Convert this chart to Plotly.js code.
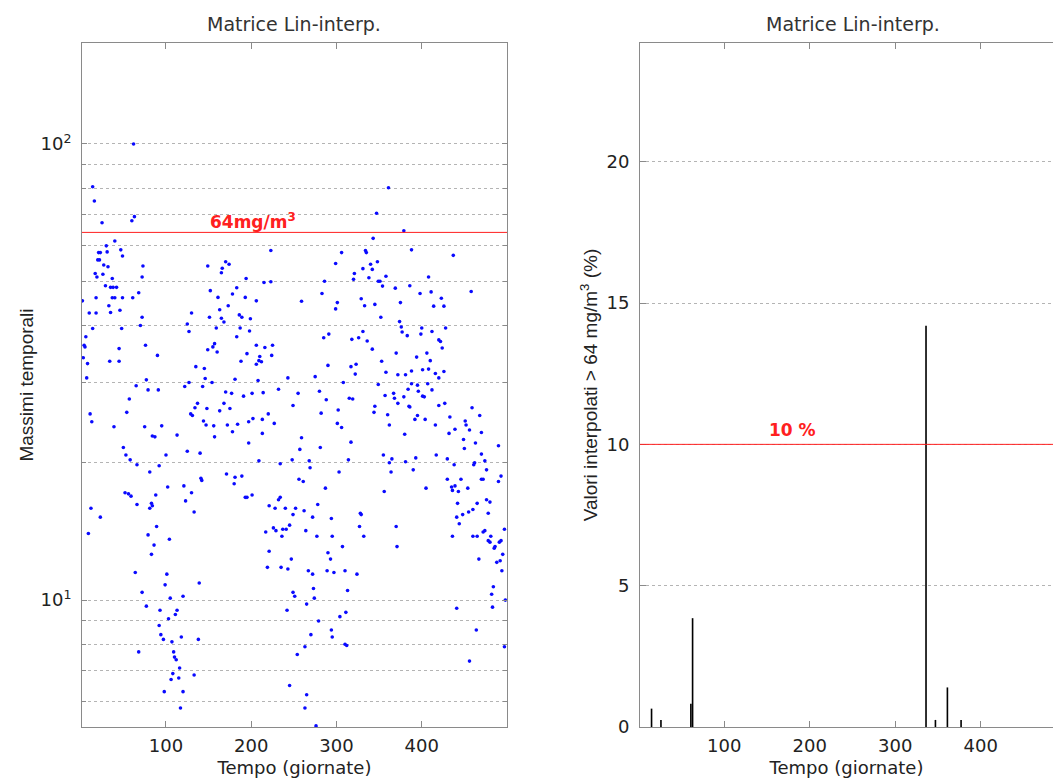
<!DOCTYPE html>
<html>
<head>
<meta charset="utf-8">
<script src="https://cdn.plot.ly/plotly-3.0.1.min.js"></script>
<style>
  html, body { margin: 0; padding: 0; background: #ffffff; }
  #chart { width: 1053px; height: 780px; }
</style>
</head>
<body>
<div id="chart"></div>
<script>
// Daily maxima (day of the series, maximum in mg/m3)
const days = [
  62, 14, 16, 25, 60, 63, 40, 30, 21, 23, 31, 47, 49, 20, 22, 27, 32, 73, 17, 19,
  26, 37, 72, 29, 35, 38, 42, 18, 37, 40, 49, 61, 68, 2, 10, 18, 33, 35, 46, 72,
  70, 14, 48,
  130, 125, 149, 170, 174, 166, 165, 194, 152, 183, 178, 161, 173, 193, 206, 215, 223, 223, 163, 151,
  165, 168, 186, 189, 199, 159, 187,
  361, 347, 379, 343, 306, 334, 335, 388, 437, 299, 340, 348, 331, 342, 321, 320, 338, 358, 349, 351,
  408, 286, 354, 369, 386, 283, 398, 411, 458, 423, 259, 301, 299, 329, 333, 345, 375, 414, 426, 352,
  374, 376, 400, 428,
  127, 198, 183, 6, 4, 5, 45, 76, 157, 155, 160, 149, 90, 3, 34, 45, 8, 195, 206, 216,
  225, 224, 210, 188, 206, 212, 209, 135, 145, 7, 77, 146, 181, 208, 243, 65, 122, 127, 143, 154,
  79, 91, 170, 177, 191, 201, 214, 232, 57, 249, 137, 134, 148, 163, 168, 175, 220, 213, 202, 197,
  11, 54, 129, 131, 13, 144, 147, 156, 172, 184, 227, 39, 75, 95, 113, 84, 87, 157, 178, 213,
  197, 50, 53, 125, 140, 100, 58, 66, 92, 209, 234, 248, 81, 171, 181, 189, 180, 141, 142, 102,
  121, 52, 59, 56, 88, 130, 193, 195, 201, 234, 232, 123, 66, 83, 84, 12, 81, 133, 221, 228,
  240, 23, 249, 245,
  285, 291, 318, 326, 331, 336, 342, 377, 383, 399, 412, 420, 422, 424, 370, 406, 394, 353, 410, 290,
  317, 323, 358, 372, 381, 388, 401, 408, 416, 426, 420, 275, 322, 308, 349, 388, 395, 407, 384, 412,
  396, 255, 280, 357, 367, 368, 379, 401, 403, 288, 315, 319, 372, 345, 385, 386, 420, 427, 459, 468,
  302, 282, 344, 360, 395, 392, 404, 433, 451, 452, 456, 301, 306, 362, 416, 439, 432, 470, 380, 259,
  317, 449, 463, 257, 281, 450, 490, 355, 393, 417, 470, 268, 269, 314, 365, 362, 381, 430, 462, 474,
  438, 461, 303, 364, 390, 476, 493, 256, 261, 430, 446, 470, 472, 490, 287, 405, 435, 436, 439, 443,
  454, 356, 442, 465, 476, 480, 278, 252, 262, 272, 294, 328, 329, 441, 448, 455, 460, 478, 444,
  9, 89, 79, 104, 86, 83, 64, 101, 99, 139, 72, 120, 105, 77, 93, 113, 111, 103, 92, 94,
  97, 118, 138, 107, 68, 109, 110, 112, 116, 108, 133, 106, 115, 98, 120, 117,
  217, 226, 229, 237, 241, 236, 221, 219, 235, 243, 247, 249, 251, 242, 245,
  264, 277, 295, 327, 332, 307, 370, 371, 290, 293, 267, 272, 289, 297, 310, 324, 273, 274, 313, 265,
  311, 304, 279, 294, 295, 270, 310, 312, 263, 254, 265, 263, 276,
  436, 460, 465, 472, 474, 481, 480, 478, 486, 485, 493, 491, 497, 495, 467, 488, 492, 494, 484, 482,
  498, 483, 441, 464, 497, 456
];
const maxima = [
  100, 80.6, 75, 67.2, 67.9, 69.3, 61.3, 59.8, 57.8, 57.8, 58, 58.6, 56.8, 55.7, 55.7, 54.3, 53.8, 54, 52, 51.1,
  51.8, 50.7, 51.1, 48.9, 48.5, 48.5, 48.5, 46, 46, 46, 46, 46, 47.2, 45.3, 42.6, 42.6, 44.2, 42.7, 43.2, 41.7,
  40, 39.4, 39.4,
  42.6, 40.3, 54, 55.2, 54.5, 53.4, 52.2, 50.7, 47.7, 48.4, 46.9, 46.1, 44.2, 46.1, 45.3, 49.7, 49.9, 58.4, 43.3, 41.7,
  41.5, 40.7, 42.2, 41.7, 41.4, 39.5, 39.5,
  80.2, 70.5, 64.5, 62.1, 57.8, 58.4, 57.8, 58.6, 57, 54.7, 54.5, 55.2, 53.3, 53.1, 52, 50.5, 50.9, 51.3, 50, 50,
  51.1, 50, 48.8, 48.3, 48.9, 47, 47, 47.4, 47.5, 45.9, 45.2, 44.9, 43.5, 45.8, 44.2, 44.5, 44.9, 44.1, 44.1, 41.7,
  40.8, 39.7, 39.5, 39.5,
  38.8, 38.9, 37.8, 37.8, 36.2, 35.9, 35.6, 36.2, 36.5, 35.9, 35, 35.4, 34.4, 34, 33.4, 33.4, 33, 34.7, 36.2, 35.8,
  36.2, 34.4, 34.2, 33.4, 32.9, 33.3, 33.5, 32.5, 32.2, 30.7, 30.4, 30.6, 30.5, 30.3, 30.7, 29.5, 29.4, 30, 29.4, 30,
  28.9, 28.9, 28.6, 28.4, 28, 28.4, 28.5, 29, 27.6, 26.7, 27, 26.4, 26.3, 26, 27, 26.3, 25.6, 24.9, 25, 24.6,
  25.6, 25.8, 25.6, 25.4, 24.6, 24.7, 24.2, 24.1, 24.2, 24.3, 24.4, 24, 24, 24.1, 23, 22.9, 22.8, 22.8, 23.4, 23.2,
  22.1, 21.6, 20.8, 21.2, 21, 20.8, 20.3, 19.8, 19.7, 20.2, 19.9, 20.3, 19.1, 18.9, 18.6, 18.7, 18, 18.5, 18.3, 17.7,
  17.8, 17.2, 16.9, 17.1, 17, 17.2, 16.8, 16.8, 17, 16.8, 16.6, 16.5, 16.2, 16.3, 16.1, 15.9, 15.9, 15.6, 16.1, 15.9,
  15.9, 15.2, 15.4, 14.6,
  37.6, 38.3, 37.3, 37.6, 38.8, 37, 35.5, 38.7, 38, 38.3, 38.8, 37.2, 36.9, 35.7, 34.8, 34.8, 34.1, 33.4, 33.5, 32.7,
  32.5, 32.9, 31.6, 31.2, 31.2, 31.8, 32, 32.1, 31.4, 31.7, 30.7, 30.9, 31.3, 30, 29.7, 29.8, 29.6, 29.8, 29, 28.9,
  28.7, 28.4, 28.7, 28.1, 28.4, 27.7, 27.9, 28, 27.9, 27.5, 27.7, 27.6, 27, 26.6, 26.6, 26.5, 26.7, 27, 26.4, 25.4,
  26.1, 25.7, 25.8, 25.5, 25.4, 24.9, 24.9, 25.2, 24.7, 24.2, 23.6, 24.4, 23.9, 24.2, 24.2, 23.7, 23.2, 23.3, 23.1, 22.7,
  22.2, 22.5, 22.1, 21.4, 21.6, 21.5, 21.8, 20.8, 20.5, 20.8, 20.9, 20.2, 19.5, 20.3, 20.4, 20, 20.1, 20.4, 20, 20.2,
  19.8, 19.8, 19.1, 19.1, 19.3, 19.3, 18.7, 18.4, 18.2, 18.4, 18.4, 18.4, 18.4, 18.2, 17.6, 17.6, 17.7, 17.4, 17.8, 17.3,
  17.6, 17.3, 16.3, 16.3, 16.6, 16.4, 16.2, 15.9, 15.7, 15.2, 15.1, 15.5, 15.4, 15.2, 15.4, 15.6, 15.8, 15.5, 14.7,
  14, 14.5, 13.9, 13.6, 13.2, 12.6, 11.5, 11.4, 10.8, 10.9, 10.4, 10.2, 10.1, 9.7, 9.5, 9.5, 9.3, 9.1, 8.8, 8.4,
  8.2, 8.3, 8.2, 8.1, 7.7, 7.7, 7.5, 7.4, 7.1, 6.9, 6.85, 6.7, 6.75, 6.3, 6.3, 5.8,
  14.1, 14.4, 14.2, 14.3, 14.3, 13.8, 12.8, 11.8, 11.8, 11.7, 12.3, 10.4, 10.2, 9.5, 6.5,
  14.2, 13.8, 13.8, 14.5, 13.8, 13.1, 14.5, 13.1, 12.7, 12.3, 11.6, 11.4, 11.6, 11.5, 11.6, 11.4, 10.6, 10.1, 10.5, 9.8,
  9.4, 9.2, 9, 8.6, 8.3, 8.4, 8, 7.95, 7.9, 7.6, 6.2, 5.8, 5.3,
  13.8, 13.8, 13.8, 14.1, 14.2, 13.8, 13.4, 13.5, 13.1, 13, 13.5, 13.4, 14.3, 12.6, 12.3, 12.1, 12.2, 11.6, 10.7, 10.3,
  10, 9.65, 9.6, 8.6, 7.9, 7.35
];

// Share of interpolated values above the threshold, per day (%)
const exceedDays = [15, 26, 61, 63, 336, 347, 361, 377];
const exceedPercent = [0.65, 0.25, 0.82, 3.85, 14.2, 0.25, 1.4, 0.25];

const THRESHOLD = 64;       // mg/m3
const PERCENT_LIMIT = 10;   // %

const dayTicks = [100, 200, 300, 400];
const logMajor = [10, 100];
const logMajorText = ['10<sup>1</sup>', '10<sup>2</sup>'];
const logMinor = [6, 7, 8, 9, 20, 30, 40, 50, 60, 70, 80, 90];
const pctTicks = [0, 5, 10, 15, 20];

const TXT = '#222222';
const AXC = '#8a8a8a';
const GRID = '#b4b4b4';
const RED = '#ff2020';
const hFont = 'DejaVu Sans, Liberation Sans, sans-serif';
const vFont = 'Liberation Sans, Arial, sans-serif';

const W = 1053, H = 780;
const px = v => v / W;
const py = v => 1 - v / H;

// log range of the left panel (decades)
const logRange = [Math.log10(5.27), Math.log10(166.5)];
const thresholdFrac = (Math.log10(THRESHOLD) - logRange[0]) / (logRange[1] - logRange[0]);

const traces = [
  {
    type: 'scatter', mode: 'markers', x: days, y: maxima,
    xaxis: 'x', yaxis: 'y',
    marker: { color: '#0a0aff', size: 3.6, line: { width: 0 } },
    hoverinfo: 'x+y', showlegend: false
  },
  {
    type: 'bar', x: exceedDays, y: exceedPercent,
    xaxis: 'x2', yaxis: 'y2', width: 1.9,
    marker: { color: '#000000', line: { width: 0 } },
    showlegend: false
  }
];

const commonX = {
  tickmode: 'array', tickvals: dayTicks, ticks: 'inside', ticklen: 6, tickcolor: AXC,
  showline: true, linecolor: AXC, linewidth: 1, mirror: 'ticks',
  showgrid: false, zeroline: false,
  tickfont: { family: hFont, size: 18, color: TXT },
  ticklabelstandoff: 2,
  title: { text: 'Tempo (giornate)', font: { family: hFont, size: 18, color: TXT }, standoff: 6 }
};

const layout = {
  width: W, height: H,
  paper_bgcolor: '#ffffff', plot_bgcolor: '#ffffff',
  margin: { l: 0, r: 0, t: 0, b: 0 },
  showlegend: false,
  xaxis: Object.assign({}, commonX, {
    domain: [px(82), px(507)], range: [1.5, 500], anchor: 'y'
  }),
  yaxis: {
    type: 'log', domain: [py(727), py(43)],
    range: logRange, anchor: 'x',
    tickmode: 'array', tickvals: logMajor, ticktext: logMajorText,
    ticks: 'inside', ticklen: 5, tickcolor: AXC,
    showline: true, linecolor: AXC, linewidth: 1, mirror: 'ticks',
    showgrid: true, gridcolor: GRID, griddash: 'dot', gridwidth: 1,
    minor: {
      tickmode: 'array', tickvals: logMinor, ticks: 'inside', ticklen: 4, tickcolor: AXC,
      showgrid: true, gridcolor: GRID, griddash: 'dot', gridwidth: 1
    },
    zeroline: false,
    tickfont: { family: hFont, size: 18, color: TXT },
    ticklabelstandoff: 6,
    title: { text: 'Massimi temporali', font: { family: vFont, size: 19, color: TXT }, standoff: 1 }
  },
  xaxis2: Object.assign({}, commonX, {
    domain: [px(640), 1], range: [1.5, 484.5], anchor: 'y2'
  }),
  yaxis2: {
    domain: [py(727), py(43)], range: [0, 24.2], anchor: 'x2',
    tickmode: 'array', tickvals: pctTicks,
    ticks: 'inside', ticklen: 6, tickcolor: AXC,
    showline: true, linecolor: AXC, linewidth: 1, mirror: false,
    showgrid: true, gridcolor: GRID, griddash: 'dot', gridwidth: 1,
    zeroline: false,
    tickfont: { family: hFont, size: 18, color: TXT },
    ticklabelstandoff: 6,
    title: { text: 'Valori interpolati > 64 mg/m<sup>3</sup> (%)', font: { family: vFont, size: 19, color: TXT }, standoff: 3 }
  },
  shapes: [
    {
      type: 'line', xref: 'x domain', x0: 0, x1: 1,
      yref: 'y domain', y0: thresholdFrac, y1: thresholdFrac,
      line: { color: RED, width: 1 }
    },
    {
      type: 'line', xref: 'x2 domain', x0: 0, x1: 1,
      yref: 'y2', y0: PERCENT_LIMIT, y1: PERCENT_LIMIT,
      line: { color: RED, width: 1 }
    }
  ],
  annotations: [
    {
      text: 'Matrice Lin-interp.', xref: 'paper', yref: 'paper',
      x: px(294), y: py(24), xanchor: 'center', yanchor: 'middle', showarrow: false,
      font: { family: hFont, size: 19, color: '#333333' }
    },
    {
      text: 'Matrice Lin-interp.', xref: 'paper', yref: 'paper',
      x: px(853), y: py(24), xanchor: 'center', yanchor: 'middle', showarrow: false,
      font: { family: hFont, size: 19, color: '#333333' }
    },
    {
      text: '<b>64mg/m<sup>3</sup></b>', xref: 'x', yref: 'y domain',
      x: 202, y: thresholdFrac, xanchor: 'center', yanchor: 'bottom', yshift: -2,
      showarrow: false, font: { family: hFont, size: 17, color: RED }
    },
    {
      text: '<b>10 %</b>', xref: 'x2', yref: 'y2',
      x: 180, y: PERCENT_LIMIT, xanchor: 'center', yanchor: 'bottom', yshift: 2,
      showarrow: false, font: { family: hFont, size: 17, color: RED }
    }
  ]
};

Plotly.newPlot('chart', traces, layout, { staticPlot: true, displayModeBar: false });
</script>
</body>
</html>
